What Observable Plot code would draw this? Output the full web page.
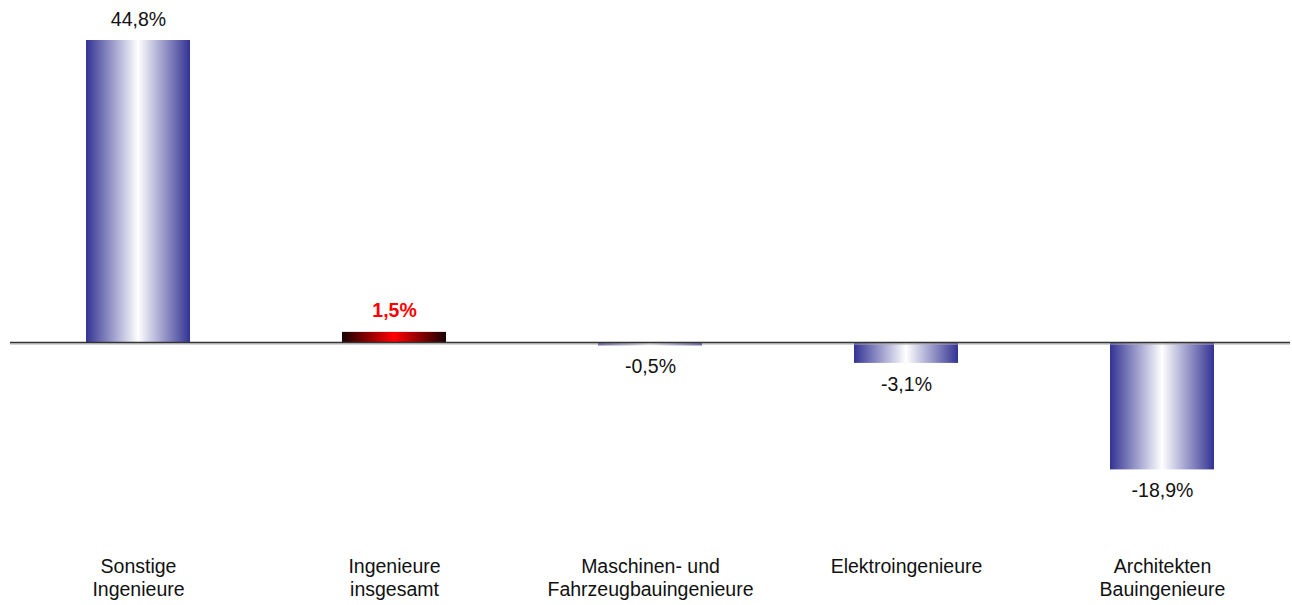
<!DOCTYPE html>
<html>
<head>
<meta charset="utf-8">
<script src="https://cdn.jsdelivr.net/npm/d3@7"></script>
<script src="https://cdn.jsdelivr.net/npm/@observablehq/plot@0.6"></script>
<style>
  html, body { margin: 0; padding: 0; background: #fff; }
</style>
</head>
<body>
<div id="chart"></div>
<script>
const categories = [
  "Sonstige\nIngenieure",
  "Ingenieure\ninsgesamt",
  "Maschinen- und\nFahrzeugbauingenieure",
  "Elektroingenieure",
  "Architekten\nBauingenieure"
];
const values = [44.8, 1.5, -0.5, -3.1, -18.9];
const labels = ["44,8%", "1,5%", "-0,5%", "-3,1%", "-18,9%"];
const highlight = [false, true, false, false, false];

const data = categories.map((c, i) => ({cat: c, value: values[i], label: labels[i], hl: highlight[i]}));

const font = "Liberation Sans, Arial, sans-serif";

const chart = Plot.plot({
  width: 1292,
  height: 605,
  marginLeft: 10,
  marginRight: 2,
  marginTop: 0,
  marginBottom: 51,
  style: {fontFamily: font, fontSize: "19.5px", background: "#fff"},
  x: {domain: categories, range: [10, 1290], paddingInner: 0.594, paddingOuter: 0.297, label: null},
  y: {domain: [0, 44.8], range: [342, 40], axis: null},
  marks: [
    Plot.barY(data, {x: "cat", y: "value", fill: d => d.hl ? "url(#gradRed)" : "url(#gradBlue)"}),
    Plot.ruleY([0], {stroke: "#aaaaaa", strokeWidth: 1, dy: 1.5}),
    Plot.ruleY([0], {stroke: "#333333", strokeWidth: 1.3}),
    Plot.text(data.filter(d => d.value >= 0 && !d.hl), {x: "cat", y: "value", text: "label", lineAnchor: "bottom", dy: -15, fill: "#111"}),
    Plot.text(data.filter(d => d.hl), {x: "cat", y: "value", text: "label", lineAnchor: "bottom", dy: -15, fill: "#ff0000", fontWeight: "bold"}),
    Plot.text(data.filter(d => d.value < 0), {x: "cat", y: "value", text: "label", lineAnchor: "top", dy: 13.5, fill: "#111"}),
    Plot.axisX({tickSize: 0, tickPadding: 2, lineHeight: 1.18, fill: "#111", label: null})
  ]
});

const ns = "http://www.w3.org/2000/svg";
const defs = document.createElementNS(ns, "defs");
function grad(id, stops) {
  const g = document.createElementNS(ns, "linearGradient");
  g.setAttribute("id", id);
  g.setAttribute("x1", "0"); g.setAttribute("x2", "1");
  g.setAttribute("y1", "0"); g.setAttribute("y2", "0");
  stops.forEach(([o, c]) => {
    const s = document.createElementNS(ns, "stop");
    s.setAttribute("offset", o);
    s.setAttribute("stop-color", c);
    g.appendChild(s);
  });
  defs.appendChild(g);
}
grad("gradBlue", [["0", "#333394"], ["0.5", "#ffffff"], ["1", "#333394"]]);
grad("gradRed", [["0", "#1a0000"], ["0.5", "#ff0000"], ["1", "#1a0000"]]);
chart.insertBefore(defs, chart.firstChild);

document.getElementById("chart").appendChild(chart);
</script>
</body>
</html>
